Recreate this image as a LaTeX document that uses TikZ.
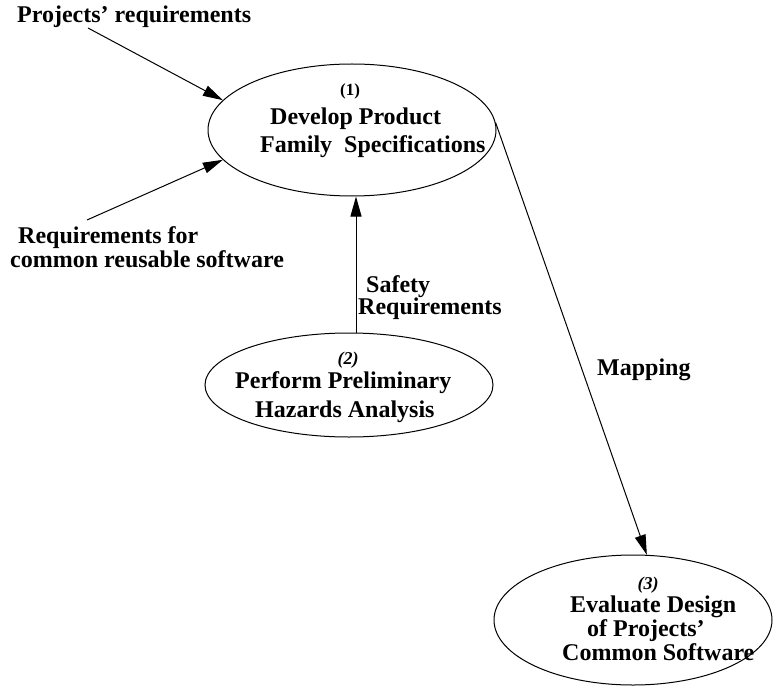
\documentclass[tikz,border=0pt]{standalone}
\usepackage{fontspec}
\setmainfont{Liberation Serif}
\usetikzlibrary{arrows.meta,shapes.geometric}
\begin{document}
\begin{tikzpicture}[x=1pt,y=-1pt,
  proc/.style={draw, ellipse, line width=1pt, inner sep=0pt},
  lbl/.style={font=\fontsize{24}{28}\selectfont\bfseries, inner sep=0pt},
  num/.style={font=\fontsize{17}{20}\selectfont\bfseries, inner sep=0pt},
  inum/.style={font=\fontsize{18}{20}\selectfont\bfseries\itshape, inner sep=0pt},
  flow/.style={line width=1pt, -{Triangle[length=20pt,width=11pt]}}]
\useasboundingbox (0,0) rectangle (773,687);
% processes
\node[proc, minimum width=288pt, minimum height=132pt] (e1) at (352,130) {};
\node[proc, minimum width=288pt, minimum height=104pt] (e2) at (349,385) {};
\node[proc, minimum width=278pt, minimum height=130pt] (e3) at (633,620) {};
% texts in processes
\node[num, anchor=base] (n1) at (350,96) {(1)};
\node[lbl, anchor=base west] (t1a) at (270,125) {Develop Product};
\node[lbl, anchor=base west] (t1b) at (260,153) {Family\ \ Specifications};
\node[inum, anchor=base] (n2) at (348,364) {(2)};
\node[lbl, anchor=base west] (t2a) at (235,388) {Perform Preliminary};
\node[lbl, anchor=base west] (t2b) at (255,417) {Hazards Analysis};
\node[inum, anchor=base] (n3) at (648,589) {(3)};
\node[lbl, anchor=base west] (t3a) at (570,612) {Evaluate Design};
\node[lbl, anchor=base west] (t3b) at (587,636) {of Projects'};
\node[lbl, anchor=base west] (t3c) at (562,660) {Common Software};
% external labels
\node[lbl, anchor=base west] (lp) at (17,23) {Projects' requirements};
\node[lbl, anchor=base west] (lr1) at (18,243) {Requirements for};
\node[lbl, anchor=base west] (lr2) at (10,267) {common reusable software};
\node[lbl, anchor=base west] (ls1) at (366,292) {Safety};
\node[lbl, anchor=base west] (ls2) at (358,314) {Requirements};
\node[lbl, anchor=base west] (lm) at (597,375) {Mapping};
% connectors
\coordinate (pr) at (88,28);
\coordinate (rc) at (87,220);
\coordinate (sx) at (356,0);
\draw[flow] (pr) -- (e1.167);
\draw[flow] (rc) -- (e1.193);
\draw[flow] (e2.north -| sx) -- (e1.south -| sx);
\draw[flow] (e1.3) -- (e3.78);
\end{tikzpicture}
\end{document}
